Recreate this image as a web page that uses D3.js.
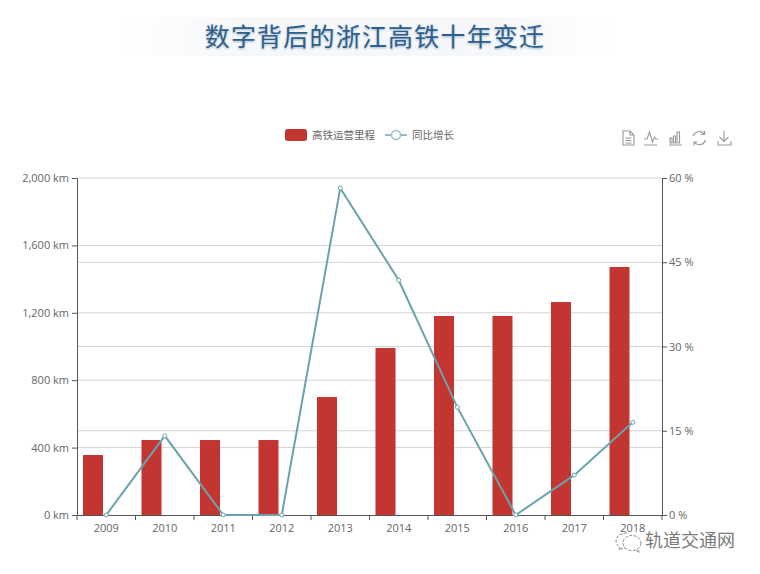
<!DOCTYPE html>
<html>
<head>
<meta charset="utf-8">
<script src="https://cdnjs.cloudflare.com/ajax/libs/d3/7.8.5/d3.min.js"></script>
<style>
  html, body { margin: 0; padding: 0; background: #fff; }
  svg { display: block; }
  text { font-family: "Open Sans", "Noto Sans CJK SC", sans-serif; }
</style>
</head>
<body>
<svg id="chart" width="760" height="574"></svg>
<script>
// Zhejiang high speed rail: operating length per year and yearly growth

const titleText = "数字背后的浙江高铁十年变迁";
const watermarkText = "轨道交通网";
const barName = "高铁运营里程";
const lineName = "同比增长";

const years = ["2009", "2010", "2011", "2012", "2013", "2014", "2015", "2016", "2017", "2018"];
const mileage = [356, 445, 445, 445, 700, 991, 1181, 1181, 1264, 1472];
const growth = [0, 14.1, 0, 0, 58.2, 41.8, 19.2, 0, 7.1, 16.5];

const mileageTicks = [0, 400, 800, 1200, 1600, 2000];
const growthTicks = [0, 15, 30, 45, 60];

const red = "#c23531";
const teal = "#6ba3ad";
const axisColor = "#555";
const labelColor = "#666";
const gridColor = "#d3d3d3";

const svg = d3.select("#chart");
const plot = {left: 77, right: 662, top: 178, bottom: 515};

const x = d3.scaleBand().domain(years).range([plot.left, plot.right]);
const yLeft = d3.scaleLinear().domain([0, 2000]).range([plot.bottom, plot.top]);
const yRight = d3.scaleLinear().domain([0, 60]).range([plot.bottom, plot.top]);

const barWidth = 20;
const barOffset = 6;

// Title banner

const defs = svg.append("defs");

const bannerFill = defs.append("linearGradient").attr("id", "banner");
bannerFill.append("stop").attr("offset", "0").attr("stop-color", "#fff");
bannerFill.append("stop").attr("offset", "0.25").attr("stop-color", "#f6f7f9");
bannerFill.append("stop").attr("offset", "0.75").attr("stop-color", "#f6f7f9");
bannerFill.append("stop").attr("offset", "1").attr("stop-color", "#fff");

defs.append("filter").attr("id", "soft")
  .append("feGaussianBlur").attr("stdDeviation", 0.9);

svg.append("rect")
  .attr("x", 125).attr("y", 17)
  .attr("width", 485).attr("height", 39)
  .attr("fill", "url(#banner)");

svg.append("text")
  .attr("x", 375).attr("y", 47)
  .attr("text-anchor", "middle")
  .attr("font-size", 25)
  .attr("letter-spacing", 1.2)
  .attr("fill", "#9db4c8")
  .attr("filter", "url(#soft)")
  .text(titleText);

svg.append("text")
  .attr("x", 375).attr("y", 46)
  .attr("text-anchor", "middle")
  .attr("font-size", 25)
  .attr("letter-spacing", 1.2)
  .attr("fill", "#2f5f8c")
  .text(titleText);

// Gridlines for both value axes

svg.append("g").selectAll("line")
  .data(mileageTicks.slice(1))
  .join("line")
  .attr("x1", plot.left).attr("x2", plot.right)
  .attr("y1", d => yLeft(d)).attr("y2", d => yLeft(d))
  .attr("stroke", gridColor);

svg.append("g").selectAll("line")
  .data(growthTicks.slice(1, -1))
  .join("line")
  .attr("x1", plot.left).attr("x2", plot.right)
  .attr("y1", d => yRight(d)).attr("y2", d => yRight(d))
  .attr("stroke", gridColor);

// Bars

svg.append("g").selectAll("rect")
  .data(years)
  .join("rect")
  .attr("x", (d) => x(d) + barOffset)
  .attr("y", (d, i) => yLeft(mileage[i]))
  .attr("width", barWidth)
  .attr("height", (d, i) => plot.bottom - yLeft(mileage[i]))
  .attr("fill", red);

// Axes

function styleAxis(g) {

  g.selectAll("path, line").attr("stroke", axisColor);
  g.selectAll("text").attr("fill", labelColor).attr("font-size", 11);
}

svg.append("g")
  .attr("transform", `translate(${plot.left},0)`)
  .call(d3.axisLeft(yLeft).tickValues(mileageTicks).tickSize(5).tickSizeOuter(0)
    .tickFormat(d => d3.format(",")(d) + " km"))
  .call(styleAxis);

svg.append("g")
  .attr("transform", `translate(${plot.right},0)`)
  .call(d3.axisRight(yRight).tickValues(growthTicks).tickSize(5).tickSizeOuter(0).tickPadding(2)
    .tickFormat(d => d + " %"))
  .call(styleAxis);

const xAxis = svg.append("g")
  .attr("transform", `translate(0,${plot.bottom})`)
  .call(d3.axisBottom(x).tickSize(0).tickPadding(9))
  .call(styleAxis);

// Category ticks sit on the band edges, not the band centres

xAxis.selectAll("line.edge")
  .data(years.concat("end"))
  .join("line")
  .attr("class", "edge")
  .attr("x1", d => d === "end" ? plot.right : x(d))
  .attr("x2", d => d === "end" ? plot.right : x(d))
  .attr("y1", 0).attr("y2", 5)
  .attr("stroke", axisColor);

// Growth line

const line = d3.line()
  .x(d => x(d.year) + x.bandwidth() / 2)
  .y(d => yRight(d.value));

const linePoints = years.map((year, i) => ({year, value: growth[i]}));

svg.append("path")
  .datum(linePoints)
  .attr("d", line)
  .attr("fill", "none")
  .attr("stroke", teal)
  .attr("stroke-width", 2);

svg.append("g").selectAll("circle")
  .data(linePoints)
  .join("circle")
  .attr("cx", d => x(d.year) + x.bandwidth() / 2)
  .attr("cy", d => yRight(d.value))
  .attr("r", 2)
  .attr("fill", "#fff")
  .attr("stroke", teal);

// Legend

const legend = svg.append("g").attr("fill", labelColor).attr("font-size", 10.5);

legend.append("rect")
  .attr("x", 285).attr("y", 129)
  .attr("width", 22).attr("height", 12).attr("rx", 3)
  .attr("fill", red);

legend.append("text").attr("x", 312).attr("y", 139).text(barName);

legend.append("line")
  .attr("x1", 385).attr("x2", 407)
  .attr("y1", 135).attr("y2", 135)
  .attr("stroke", teal).attr("stroke-width", 1.5);

legend.append("circle")
  .attr("cx", 396).attr("cy", 135).attr("r", 4.5)
  .attr("fill", "#fff").attr("stroke", "#9dc3ca").attr("stroke-width", 1.5);

legend.append("text").attr("x", 412).attr("y", 139).text(lineName);

// Toolbox icons

const toolbox = svg.append("g")
  .attr("fill", "none")
  .attr("stroke", "#999")
  .attr("stroke-width", 1.1);

toolbox.append("path").attr("d", "M623 131h7l4 4v10h-11zM630 131v4h4M625.5 138h6M625.5 140.5h6M625.5 143h6");
toolbox.append("path").attr("d", "M644 139h3l2.5-7 3 10 2-5 1.500 2h2M644 145h13");
toolbox.append("path").attr("d", "M669 145h13M670 143v-5h2v5zM673.5 143v-7h2v7zM677 143v-11h2.5v11z");
toolbox.append("path").attr("d", "M693 136a6.5 6.5 0 0 1 11.500 -1.500M705.500 140a6.500 6.500 0 0 1 -11.500 2M704.500 131v3.500h-3.500M694 145.500v-3.500h3.500");
toolbox.append("path").attr("d", "M724 131v10M719.500 137l4.500 4.500 4.500-4.500M718 141v4h13v-4");

// Watermark

const mark = svg.append("g")
  .attr("fill", "none")
  .attr("stroke", "#8a8a8a")
  .attr("stroke-width", 1)
  .attr("stroke-dasharray", "3 1.5");

mark.append("path").attr("d", "M627 533c-7 0-11 4-11 8 0 3 2 5 4 6l-1 3 4-2h3");
mark.append("ellipse").attr("cx", 632).attr("cy", 543).attr("rx", 9).attr("ry", 7.5).attr("fill", "#fff");
mark.append("path").attr("d", "M636 550l3 3-.5-4");

svg.append("text")
  .attr("x", 645).attr("y", 547)
  .attr("font-size", 18)
  .attr("fill", "#7a7a7a")
  .attr("stroke", "#fff")
  .attr("stroke-width", 3)
  .attr("paint-order", "stroke")
  .text(watermarkText);
</script>
</body>
</html>
